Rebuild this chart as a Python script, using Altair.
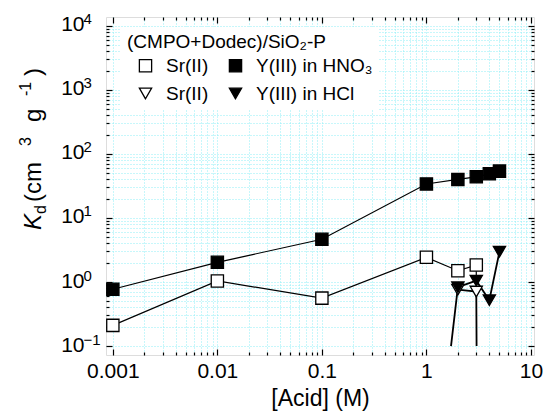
import altair as alt
import pandas as pd

# ---------------- data ----------------
sr_hno3_acid = [0.001, 0.01, 0.1, 1, 2, 3]
sr_hno3_kd = [0.21, 1.04, 0.56, 2.43, 1.50, 1.84]

y_hno3_acid = [0.001, 0.01, 0.1, 1, 2, 3, 4, 5]
y_hno3_kd = [0.77, 2.03, 4.65, 34, 40, 44, 49, 54]

sr_hcl_acid = [2, 3]
sr_hcl_kd = [0.76, 0.71]

y_hcl_acid = [2, 3, 4, 5]
y_hcl_kd = [0.83, 1.05, 0.52, 2.97]

# connecting traces as drawn (some run down to the floor of the plot)
sr_hcl_line_acid = [2, 3, 3.02]
sr_hcl_line_kd = [0.76, 0.71, 0.1]
y_hcl_line_acid = [1.72, 2, 3, 4, 5]
y_hcl_line_kd = [0.1, 0.83, 1.05, 0.52, 2.97]
link_acid = [3, 3]
link_kd = [1.84, 1.05]

series_keys = ["a", "b", "c", "d"]
series_labels = ["Sr(II)", "Y(III) in HNO\u2083", "Sr(II)", "Y(III) in HCl"]

x_major = [0.001, 0.01, 0.1, 1, 10]
y_major = [0.1, 1, 10, 100, 1000, 10000]
y_exp = ["\u22121", "0", "1", "2", "3", "4"]

# ---------------- tables ----------------
pts = pd.concat([
    pd.DataFrame({"acid": sr_hno3_acid, "kd": sr_hno3_kd, "series": "a"}),
    pd.DataFrame({"acid": y_hno3_acid, "kd": y_hno3_kd, "series": "b"}),
    pd.DataFrame({"acid": sr_hcl_acid, "kd": sr_hcl_kd, "series": "c"}),
    pd.DataFrame({"acid": y_hcl_acid, "kd": y_hcl_kd, "series": "d"}),
], ignore_index=True)

def trace(xs, ys, name):
    return pd.DataFrame({"acid": xs, "kd": ys, "trace": name, "ord": list(range(len(xs)))})

lines_thin = pd.concat([
    trace(sr_hno3_acid, sr_hno3_kd, "sr_hno3"),
    trace(y_hno3_acid, y_hno3_kd, "y_hno3"),
    trace(link_acid, link_kd, "link"),
], ignore_index=True)
lines_thick = pd.concat([
    trace(sr_hcl_line_acid, sr_hcl_line_kd, "sr_hcl"),
    trace(y_hcl_line_acid, y_hcl_line_kd, "y_hcl"),
], ignore_index=True)

x_minor = [m * 10.0 ** e for e in range(-3, 1) for m in range(2, 10)]
y_minor = [m * 10.0 ** e for e in range(-1, 4) for m in range(2, 10)]
x_all = sorted(x_major + x_minor)
y_all = sorted(y_major + y_minor)

axis_df = pd.DataFrame({"acid": [x_major[0], x_major[-1]], "kd": [y_major[0], y_major[-1]]})

FONT = "Liberation Sans"
xs = alt.Scale(type="log", domain=[0.00086, 10.7], nice=False)
ys = alt.Scale(type="log", domain=[0.0724, 13800], nice=False)

W, H = 428, 338

def bare(**kw):
    base = dict(domain=False, grid=False, labels=False, title=None,
                tickColor="black", tickWidth=1.2)
    base.update(kw)
    return alt.Axis(**base)

def axis_layer(xaxis, yaxis):
    return alt.Chart(axis_df).mark_point(opacity=0).encode(
        x=alt.X("acid:Q", scale=xs, axis=xaxis),
        y=alt.Y("kd:Q", scale=ys, axis=yaxis),
    )

GRID = "#8eeef6"
grid_layer = axis_layer(
    alt.Axis(orient="bottom", values=x_all, grid=True, gridColor=GRID, gridDash=[1, 2],
             gridWidth=1, ticks=False, labels=False, domain=False, title=None),
    alt.Axis(orient="left", values=y_all, grid=True, gridColor=GRID, gridDash=[1, 2],
             gridWidth=1, ticks=False, labels=False, domain=False, title=None),
)

# inward ticks: major 6px, minor 3px, on all four sides
major_bl = axis_layer(bare(orient="bottom", values=x_major, offset=-6, tickSize=6),
                      bare(orient="left", values=y_major, offset=-6, tickSize=6))
minor_bl = axis_layer(bare(orient="bottom", values=x_minor, offset=-3, tickSize=3),
                      bare(orient="left", values=y_minor, offset=-3, tickSize=3))
major_tr = axis_layer(bare(orient="top", values=x_major, offset=-6, tickSize=6),
                      bare(orient="right", values=y_major, offset=-6, tickSize=6))
minor_tr = axis_layer(bare(orient="top", values=x_minor, offset=-3, tickSize=3),
                      bare(orient="right", values=y_minor, offset=-3, tickSize=3))

# labels
exp_expr = " : ".join(
    f"datum.value < {v * 3.0} ? '{e}'" for v, e in zip(y_major[:-1], y_exp[:-1])
) + f" : '{y_exp[-1]}'"

label_layer = axis_layer(
    alt.Axis(orient="bottom", values=x_major, format="~g", ticks=False, tickSize=0,
             domain=False, grid=False, labelFont=FONT, labelFontSize=21, labelColor="black",
             labelPadding=5, labelFlush=False, labelOverlap=False,
             title="[Acid] (M)", titleFont=FONT, titleFontSize=23, titleFontWeight="normal",
             titleColor="black", titleBaseline="alphabetic", titleY=50),
    alt.Axis(orient="left", values=y_major, labelExpr="'10'", ticks=False, tickSize=0,
             domain=False, grid=False, labelFont=FONT, labelFontSize=21, labelColor="black",
             labelPadding=22, labelFlush=False, labelOverlap=False, labelOffset=-1, title=None),
)
exp_layer = axis_layer(
    None,
    alt.Axis(orient="left", values=y_major, labelExpr=exp_expr, ticks=False, tickSize=0,
             domain=False, grid=False, labelFont=FONT, labelFontSize=15, labelColor="black",
             labelAlign="left", labelPadding=23, labelFlush=False, labelOverlap=False,
             labelOffset=-7, title=None),
)

# data marks
line_thin = alt.Chart(lines_thin).mark_line(color="black", strokeWidth=1.2).encode(
    x=alt.X("acid:Q", scale=xs, axis=None),
    y=alt.Y("kd:Q", scale=ys, axis=None),
    detail="trace:N", order="ord:Q",
)
line_thick = alt.Chart(lines_thick).mark_line(color="black", strokeWidth=1.8).encode(
    x=alt.X("acid:Q", scale=xs, axis=None),
    y=alt.Y("kd:Q", scale=ys, axis=None),
    detail="trace:N", order="ord:Q",
)

label_expr = " : ".join(
    f"datum.label == '{k}' ? '{l}'" for k, l in zip(series_keys[:-1], series_labels[:-1])
) + f" : '{series_labels[-1]}'"

legend = alt.Legend(
    orient="none", legendX=15, legendY=10, columns=2, direction="horizontal",
    title="(CMPO+Dodec)/SiO\u2082-P", titleFont=FONT, titleFontSize=19, titleLimit=0,
    titleFontWeight="normal", titleColor="black", titlePadding=4,
    labelFont=FONT, labelFontSize=19, labelColor="black", labelExpr=label_expr, labelLimit=0,
    symbolSize=150, symbolStrokeColor="black", symbolStrokeWidth=1.3,
    symbolOffset=9, labelOffset=11, columnPadding=8, rowPadding=8,
    fillColor="white", padding=6,
)

points = alt.Chart(pts).mark_point(filled=True, size=150, stroke="black",
                                   strokeWidth=1.3, opacity=1).encode(
    x=alt.X("acid:Q", scale=xs, axis=None),
    y=alt.Y("kd:Q", scale=ys, axis=None),
    shape=alt.Shape("series:N", scale=alt.Scale(domain=series_keys,
                    range=["square", "square", "triangle-down", "triangle-down"]), legend=legend),
    fill=alt.Fill("series:N", scale=alt.Scale(domain=series_keys,
                  range=["white", "black", "white", "black"]), legend=legend),
    stroke=alt.Stroke("series:N", scale=alt.Scale(domain=series_keys,
                      range=["black", "black", "black", "black"]), legend=legend),
)

# y-axis title pieces: K_d (cm^3 g^-1)
one = pd.DataFrame({"k": [0]})
def txt(text, x, y, size, style="normal"):
    return alt.Chart(one).mark_text(text=text, angle=270, align="left", baseline="alphabetic",
                                    font=FONT, fontSize=size, fontStyle=style,
                                    color="black").encode(x=alt.value(x), y=alt.value(y))

ytitle = [
    txt("K", -65, 213, 24, "italic"),
    txt("d", -60, 197, 16),
    txt("(cm", -65, 185, 24),
    txt("3", -75, 129, 16),
    txt("g", -65, 105, 24),
    txt("-1", -75, 79, 16),
    txt(")", -65, 59, 24),
]

chart = alt.layer(
    grid_layer, major_bl, minor_bl, major_tr, minor_tr, label_layer, exp_layer,
    line_thin, line_thick, points, *ytitle
).resolve_axis(x="independent", y="independent").properties(
    width=W, height=H,
    padding={"left": 106, "top": 17, "right": 10, "bottom": 63},
    autosize=alt.AutoSizeParams(type="none"),
).configure_view(stroke="black", strokeWidth=1.5).configure(background="white")

chart.save("out.html", embed_options={"renderer": "svg", "actions": False})
